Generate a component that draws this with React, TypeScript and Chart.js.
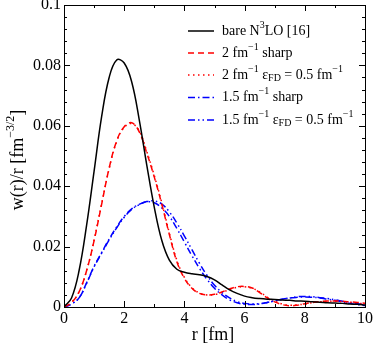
import React, { useEffect, useRef } from "react";
import { Chart, registerables } from "chart.js";

Chart.register(...registerables);

const rValues = [0, 0.25, 0.5, 0.75, 1, 1.25, 1.5, 1.75, 2, 2.25, 2.5, 2.75, 3, 3.25, 3.5, 3.75, 4, 4.25, 4.5, 4.75, 5, 5.25, 5.5, 5.75, 6, 6.25, 6.5, 6.75, 7, 7.25, 7.5, 7.75, 8, 8.25, 8.5, 8.75, 9, 9.25, 9.5, 9.75, 10];

const bareN3LO = [0, 0.003, 0.012, 0.027, 0.045, 0.063, 0.076, 0.0818, 0.0808, 0.0745, 0.062, 0.047, 0.033, 0.022, 0.0155, 0.0125, 0.0115, 0.011, 0.0107, 0.0101, 0.009, 0.0073, 0.0057, 0.0045, 0.0036, 0.0031, 0.0028, 0.0026, 0.0025, 0.0023, 0.0022, 0.002, 0.0019, 0.0017, 0.0016, 0.0014, 0.0013, 0.0012, 0.001, 0.0009, 0.0007];

const sharp2 = [0, 0.0015, 0.005, 0.012, 0.022, 0.034, 0.046, 0.055, 0.0597, 0.061, 0.058, 0.051, 0.043, 0.034, 0.024, 0.015, 0.0095, 0.0062, 0.0045, 0.004, 0.0042, 0.005, 0.006, 0.0067, 0.0068, 0.0063, 0.0048, 0.003, 0.0017, 0.0008, 0.0004, 0.0006, 0.0011, 0.0015, 0.0018, 0.002, 0.002, 0.0019, 0.0017, 0.0015, 0.0012];

const fd2 = [0, 0.0015, 0.005, 0.012, 0.0222, 0.0342, 0.0458, 0.0548, 0.0595, 0.0607, 0.0583, 0.0515, 0.0435, 0.0345, 0.0245, 0.0155, 0.0098, 0.0064, 0.0046, 0.004, 0.0041, 0.0048, 0.0058, 0.0065, 0.0067, 0.0062, 0.005, 0.0033, 0.002, 0.001, 0.0006, 0.0007, 0.001, 0.0014, 0.0017, 0.0019, 0.0019, 0.0018, 0.0016, 0.0013, 0.001];

const sharp15 = [0, 0.001, 0.003, 0.008, 0.0135, 0.018, 0.0225, 0.0265, 0.03, 0.0325, 0.034, 0.0348, 0.0345, 0.0328, 0.03, 0.026, 0.0215, 0.017, 0.0128, 0.0092, 0.0062, 0.004, 0.0024, 0.0014, 0.0009, 0.0008, 0.001, 0.0015, 0.0021, 0.0026, 0.003, 0.0032, 0.0033, 0.0032, 0.003, 0.0026, 0.0022, 0.0017, 0.0012, 0.0008, 0.0005];

const fd15 = [0, 0.001, 0.003, 0.0078, 0.0133, 0.0178, 0.0222, 0.0262, 0.0297, 0.0323, 0.0339, 0.0349, 0.0351, 0.0341, 0.0315, 0.0278, 0.0235, 0.019, 0.0145, 0.0105, 0.0072, 0.0048, 0.003, 0.0018, 0.0012, 0.001, 0.0011, 0.0015, 0.002, 0.0026, 0.003, 0.0034, 0.0035, 0.0034, 0.0031, 0.0028, 0.0024, 0.0019, 0.0014, 0.0011, 0.0008];

const xTickLabels = [0, 2, 4, 6, 8, 10];
const yTickLabels = [0, 0.02, 0.04, 0.06, 0.08, 0.1];

type Seg = { t: string; k?: "sup" | "sub" };
const legendTexts: Seg[][] = [
  [{ t: "bare N" }, { t: "3", k: "sup" }, { t: "LO [16]" }],
  [{ t: "2 fm" }, { t: "−1", k: "sup" }, { t: " sharp" }],
  [{ t: "2 fm" }, { t: "−1", k: "sup" }, { t: " ε" }, { t: "FD", k: "sub" }, { t: " = 0.5 fm" }, { t: "−1", k: "sup" }],
  [{ t: "1.5 fm" }, { t: "−1", k: "sup" }, { t: " sharp" }],
  [{ t: "1.5 fm" }, { t: "−1", k: "sup" }, { t: " ε" }, { t: "FD", k: "sub" }, { t: " = 0.5 fm" }, { t: "−1", k: "sup" }],
];
const yTitle: Seg[] = [{ t: "w(r)/r [fm" }, { t: "−3/2", k: "sup" }, { t: "]" }];
const xTitle = "r [fm]";

const FONT = "'Liberation Serif', 'DejaVu Serif', serif";

function drawSegs(ctx: CanvasRenderingContext2D, segs: Seg[], x: number, y: number, size: number, measureOnly = false): number {
  let cx = x;
  for (const s of segs) {
    const fs = s.k ? Math.round(size * 0.68) : size;
    ctx.font = `${fs}px ${FONT}`;
    const dy = s.k === "sup" ? -size * 0.42 : s.k === "sub" ? size * 0.25 : 0;
    if (!measureOnly) ctx.fillText(s.t, cx, y + dy);
    cx += ctx.measureText(s.t).width;
  }
  return cx - x;
}

const decorPlugin = {
  id: "decor",
  afterDraw(chart: any) {
    const { ctx, chartArea: a, scales } = chart;
    const xs = scales.x;
    const ys = scales.y;
    ctx.save();
    ctx.strokeStyle = "#000";
    ctx.lineWidth = 1;
    ctx.strokeRect(Math.round(a.left) + 0.5, Math.round(a.top) + 0.5, Math.round(a.right - a.left), Math.round(a.bottom - a.top));
    ctx.beginPath();
    for (let v = 0; v <= 10; v += 1) {
      const px = Math.round(xs.getPixelForValue(v)) + 0.5;
      const len = v % 2 === 0 ? 6 : 3;
      ctx.moveTo(px, a.bottom);
      ctx.lineTo(px, a.bottom - len);
      ctx.moveTo(px, a.top);
      ctx.lineTo(px, a.top + len);
    }
    for (let i = 0; i <= 25; i++) {
      const v = i * 0.004;
      const py = Math.round(ys.getPixelForValue(v)) + 0.5;
      const len = i % 5 === 0 ? 6 : 3;
      ctx.moveTo(a.left, py);
      ctx.lineTo(a.left + len, py);
      ctx.moveTo(a.right, py);
      ctx.lineTo(a.right - len, py);
    }
    ctx.stroke();

    ctx.fillStyle = "#000";
    ctx.textBaseline = "middle";
    ctx.textAlign = "left";
    const rows = [31, 53, 75, 97.5, 120];
    chart.data.datasets.forEach((ds: any, i: number) => {
      const y = rows[i];
      ctx.save();
      ctx.strokeStyle = ds.borderColor;
      ctx.lineWidth = 1.5;
      ctx.setLineDash(ds.borderDash || []);
      ctx.beginPath();
      ctx.moveTo(188, y);
      ctx.lineTo(214, y);
      ctx.stroke();
      ctx.restore();
      drawSegs(ctx, legendTexts[i], 222, y, 14);
    });

    ctx.font = `18px ${FONT}`;
    ctx.textAlign = "center";
    ctx.fillText(xTitle, 213, 335);

    ctx.save();
    ctx.translate(18, 160);
    ctx.rotate(-Math.PI / 2);
    ctx.textAlign = "left";
    const w = drawSegs(ctx, yTitle, 0, 0, 18, true);
    drawSegs(ctx, yTitle, -w / 2, 0, 18);
    ctx.restore();
    ctx.restore();
  },
};

export default function App() {
  const ref = useRef<HTMLCanvasElement | null>(null);
  useEffect(() => {
    document.body.style.margin = "0";
    const mk = (label: string, data: number[], color: string, dash: number[]) => ({
      label,
      data: rValues.map((r, i) => ({ x: r, y: data[i] })),
      borderColor: color,
      backgroundColor: color,
      borderWidth: 1.5,
      borderDash: dash,
      pointRadius: 0,
      tension: 0.4,
      fill: false,
    });
    const chart = new Chart(ref.current!, {
      type: "line",
      data: {
        datasets: [
          mk("bare N3LO [16]", bareN3LO, "#000000", []),
          mk("2 fm-1 sharp", sharp2, "#ff0000", [6, 4]),
          mk("2 fm-1 eFD = 0.5 fm-1", fd2, "#ff0000", [1.5, 3.5]),
          mk("1.5 fm-1 sharp", sharp15, "#0000ff", [7, 3, 1.5, 3]),
          mk("1.5 fm-1 eFD = 0.5 fm-1", fd15, "#0000ff", [7, 3, 1.5, 3, 1.5, 3]),
        ],
      },
      options: {
        animation: false,
        responsive: true,
        maintainAspectRatio: false,
        layout: { padding: { left: 0, right: 9, top: 5, bottom: 0 } },
        plugins: { legend: { display: false }, tooltip: { enabled: false } },
        scales: {
          x: {
            type: "linear",
            min: 0,
            max: 10,
            grid: { display: false, drawTicks: false },
            border: { display: false },
            afterBuildTicks: (s: any) => {
              s.ticks = xTickLabels.map((v) => ({ value: v }));
            },
            afterFit: (s: any) => {
              s.height = 44;
              s.paddingLeft = 0;
              s.paddingRight = 0;
            },
            ticks: {
              padding: 2,
              color: "#000",
              font: { family: FONT, size: 16 },
              maxRotation: 0,
              callback: (v: any) => String(v),
            },
          },
          y: {
            type: "linear",
            min: 0,
            max: 0.1,
            grid: { display: false, drawTicks: false },
            border: { display: false },
            afterBuildTicks: (s: any) => {
              s.ticks = yTickLabels.map((v) => ({ value: v }));
            },
            afterFit: (s: any) => {
              s.width = 64;
              s.paddingTop = 0;
              s.paddingBottom = 0;
            },
            ticks: {
              padding: 3,
              color: "#000",
              font: { family: FONT, size: 16 },
              callback: (v: any) => String(+(+v).toFixed(3)),
            },
          },
        },
      },
      plugins: [decorPlugin],
    });
    return () => chart.destroy();
  }, []);
  return (
    <div style={{ width: 374, height: 351, position: "relative", background: "#fff" }}>
      <canvas ref={ref} />
    </div>
  );
}
